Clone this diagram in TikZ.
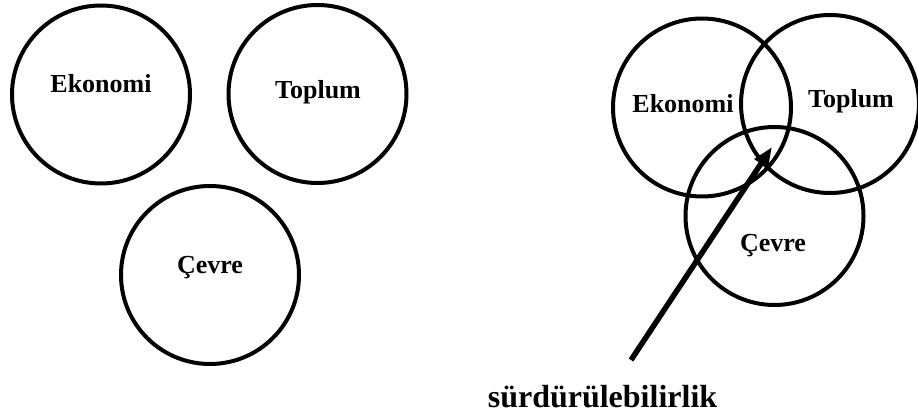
\documentclass[tikz,border=0pt]{standalone}
\usepackage{fontspec}
\setmainfont{Liberation Serif}
\usetikzlibrary{arrows.meta}
\begin{document}
\begin{tikzpicture}[x=1pt,y=-1pt,
  ring/.style={draw=black,line width=4pt,circle,minimum size=178pt,inner sep=0pt},
  lbl/.style={anchor=base,inner sep=0pt,font=\fontsize{26}{30}\selectfont\bfseries},
  biglbl/.style={anchor=base,inner sep=0pt,font=\fontsize{32}{36}\selectfont\bfseries}]
\useasboundingbox (0,0) rectangle (918,419);
% left: separate circles
\node[ring] (e1) at (101,94.5) {};
\node[ring] (t1) at (317.5,94) {};
\node[ring] (c1) at (210,275) {};
\node[lbl] (le1) at (101,93) {Ekonomi};
\node[lbl] (lt1) at (318,99) {Toplum};
\node[lbl] (lc1) at (210,274) {Çevre};
% right: overlapping circles
\node[ring] (e2) at (702,107.5) {};
\node[ring] (t2) at (830,104) {};
\node[ring] (c2) at (774.5,216) {};
\node[lbl] (le2) at (683,113) {Ekonomi};
\node[lbl] (lt2) at (851,108) {Toplum};
\node[lbl] (lc2) at (773,252) {Çevre};
% arrow
\coordinate (tail) at (631,360);
\coordinate (tip) at (772,147);
\draw[line width=5.5pt,-{Triangle[length=20pt,width=15pt]}] (tail) -- (tip);
\node[biglbl] (s) at (602.5,407) {sürdürülebilirlik};
\end{tikzpicture}
\end{document}
